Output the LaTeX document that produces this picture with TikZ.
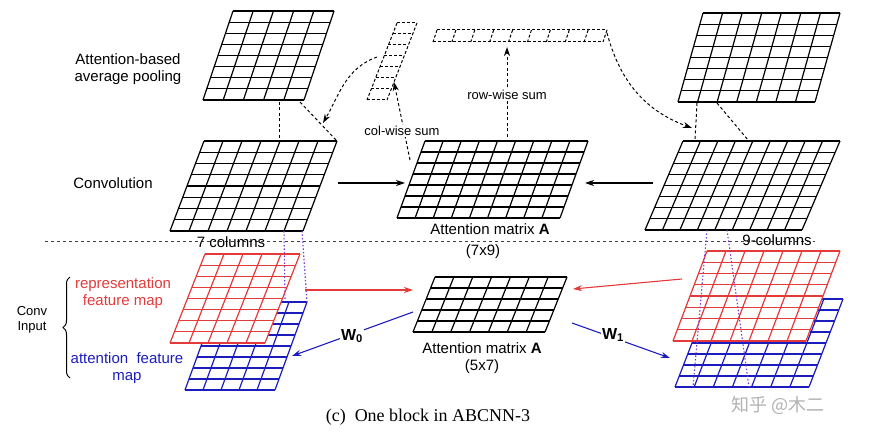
\documentclass[tikz,border=0pt]{standalone}
\usepackage{xcolor}
\usepackage{tikz}
\usepackage{fontspec}
\setmainfont{Liberation Sans}
\newfontfamily\capfont{Liberation Serif}
\newfontfamily\cjkfont{Noto Sans CJK SC}
\usetikzlibrary{decorations.pathreplacing,arrows.meta}
\definecolor{fmred}{RGB}{228,58,58}
\definecolor{fmblue}{RGB}{28,28,190}
\definecolor{linkviolet}{RGB}{125,60,205}
% #1 style, (#2,#3) top left, #4 width, #5 height, #6 slant, #7 columns, #8 rows
\newcommand{\pgrid}[8]{%
  \foreach \i in {0,...,#8}
    \draw[#1] ({#2-#6*\i/#8},{#3+#5*\i/#8}) -- ++(#4,0);
  \foreach \j in {0,...,#7}
    \draw[#1] ({#2+#4*\j/#7},#3) -- ++({-#6},#5);
}
\newcommand{\pfill}[5]{%
  \fill[white] (#1,#2) -- ++(#3,0) -- ++({-#5},#4) -- ++({-#3},0) -- cycle;
}
\tikzset{
  lbl/.style={font=\fontsize{15}{17}\selectfont, align=center, inner sep=1pt},
  sumlbl/.style={font=\fontsize{13}{15}\selectfont, fill=white, inner sep=1pt},
  cell/.style={line width=1.2pt},
  dashcell/.style={line width=1pt, dash pattern=on 3pt off 2pt},
  dashlink/.style={line width=1pt, dash pattern=on 3pt off 2.5pt},
  dotlink/.style={color=linkviolet, line width=1.1pt, dash pattern=on 1.5pt off 2pt}
}
\begin{document}
\begin{tikzpicture}[x=1pt, y=-1pt, >={Stealth[length=9pt, width=6pt]}]
         \useasboundingbox (0,0) rectangle (876,438);
         \pgrid{cell}{233}{11}{101}{89}{30}{5}{8}
         \pgrid{cell}{204}{141}{133}{90}{34}{7}{8}
         \pgrid{cell}{425}{141}{163}{77}{28}{9}{7}
         \pgrid{cell}{683}{141}{157}{89}{38}{9}{8}
         \pgrid{cell}{703}{13}{137}{89}{25}{7}{8}
         \pgrid{dashcell}{397}{23}{20}{77}{30}{1}{7}
         \pgrid{dashcell}{437}{30}{170}{12}{4}{9}{1}
         \pgrid{cell}{435}{277}{132}{55}{22}{7}{5}
         \pgrid{cell,color=fmblue}{217}{302}{90}{88}{32}{5}{8}
         \pfill{205}{254}{95}{89}{35}
         \pgrid{cell,color=fmred}{205}{254}{95}{89}{35}{5}{8}
         \pgrid{cell,color=fmblue}{709}{299}{134}{88}{34}{7}{8}
         \pfill{707}{251}{133}{90}{34}
         \pgrid{cell,color=fmred}{707}{251}{133}{90}{34}{7}{8}

         \node[lbl] (pool) at (128,69) {Attention-based\\average pooling};
         \node[lbl] (conv) at (113,183) {Convolution};
         \node[lbl] (attA) at (490,229) {Attention matrix \textbf{A}};
         \node[lbl] (attAsize) at (483,252) {(7x9)};
         \node[lbl] (attB) at (482,348) {Attention matrix \textbf{A}};
         \node[lbl] (attBsize) at (482,367) {(5x7)};
         \node[lbl, color=fmred] (repr) at (123,293) {representation\\feature map};
         \node[lbl, color=fmblue] (attn) at (127,368) {attention\ \ feature\\map};
         \node[lbl, font=\fontsize{13}{15}\selectfont] (input) at (32,320) {Conv\\Input};

         \draw[dashed, color=black!75] (45,241) to (815,241);
         \node[lbl] (sevencols) at (231,242) {7 columns};
         \node[lbl] (ninecols) at (777,240) {9-columns};

         \coordinate (convLout) at (338,183);
         \coordinate (attAinL) at (405,183);
         \coordinate (convRout) at (653,183);
         \coordinate (attAinR) at (585,183);
         \draw[->][line width=1.1pt] (convLout) to (attAinL);
         \draw[->][line width=1.1pt] (convRout) to (attAinR);

         \coordinate (attAcol) at (410,160);
         \coordinate (colsum) at (394,82);
         \coordinate (attArow) at (507,137);
         \coordinate (rowsum) at (507,47);
         \draw[->][dashlink] (attAcol) to (colsum);
         \draw[->][dashlink] (attArow) to (rowsum);
         \node[sumlbl] (colwise) at (402,131) {col-wise sum};
         \node[sumlbl] (rowwise) at (507,95) {row-wise sum};

         \coordinate (colsumout) at (377,57);
         \coordinate (poolLin) at (323,123);
         \coordinate (rowsumout) at (607,33);
         \coordinate (poolRin) at (692,128);
         \draw[->][dashlink] (colsumout) to[out=200, in=60] (poolLin);
         \draw[->][dashlink] (rowsumout) to[out=-75, in=160] (poolRin);

         \draw[dashlink] (279,102) to (279,140);
         \draw[dashlink] (300,102) to (336,140);
         \draw[dashlink] (697,103) to (695,140);
         \draw[dashlink] (717,103) to (748,140);

         \draw[dotlink] (284,231) to (285,300);
         \draw[dotlink] (302,231) to (307,302);
         \draw[dotlink] (707,230) to (693,387);
         \draw[dotlink] (727,230) to (749,387);

         \coordinate (reprL) at (305,290);
         \coordinate (attBinL) at (413,290);
         \coordinate (reprR) at (682,279);
         \coordinate (attBinR) at (573,289);
         \draw[->][color=fmred, line width=1.1pt] (reprL) to (attBinL);
         \draw[->][color=fmred, line width=1.1pt] (reprR) to (attBinR);

         \coordinate (attBoutL) at (413,312);
         \coordinate (attnL) at (292,356);
         \coordinate (attBoutR) at (572,323);
         \coordinate (attnR) at (670,358);
         \draw[->][color=fmblue, line width=1.1pt] (attBoutL) to (attnL);
         \draw[->][color=fmblue, line width=1.1pt] (attBoutR) to (attnR);
         \node[lbl, fill=white, font=\fontsize{16}{18}\selectfont\bfseries] (wzero) at (352,336) {W\textsubscript{0}};
         \node[lbl, fill=white, font=\fontsize{16}{18}\selectfont\bfseries] (wone) at (613,335) {W\textsubscript{1}};

         \draw[decorate, decoration={brace, amplitude=7pt}, line width=1pt] (70,378) to (70,277);

         \node[font=\capfont\fontsize{18}{20}\selectfont] (caption) at (428,417) {(c)\ \ One block in ABCNN-3};
         \node[text=black!30, font=\cjkfont\fontsize{18}{20}\selectfont] (mark) at (778,405) {知乎 @木二};
      \end{tikzpicture}
\end{document}
